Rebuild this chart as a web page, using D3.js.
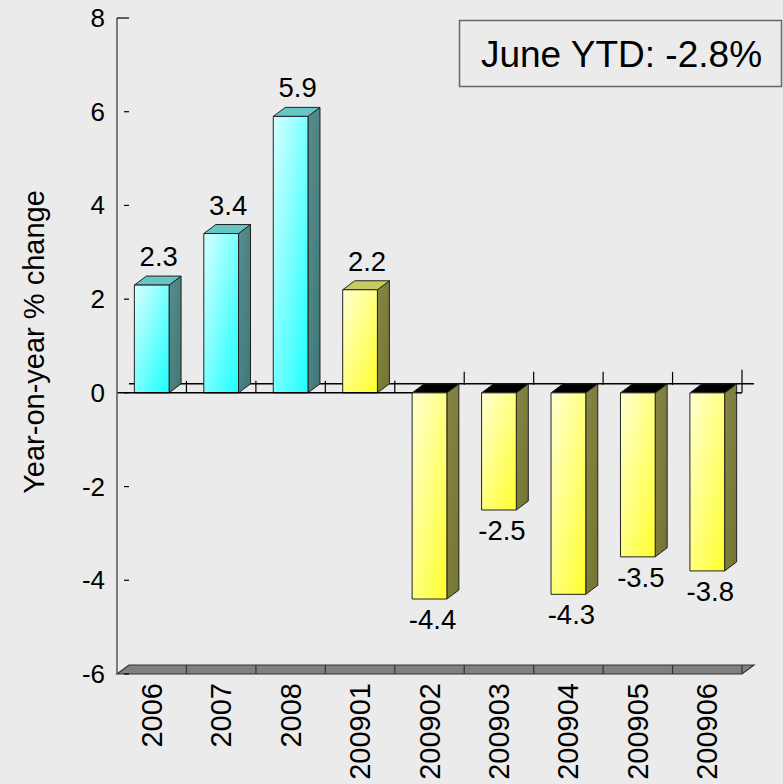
<!DOCTYPE html>
<html>
<head>
<meta charset="utf-8">
<script src="https://cdn.jsdelivr.net/npm/d3@7"></script>
<style>
  html, body { margin: 0; padding: 0; background: #ebebeb; }
  svg { display: block; font-family: 'Liberation Sans', Arial, sans-serif; }
</style>
</head>
<body>
<svg width="783" height="784"></svg>
<script>
const categories = ['2006', '2007', '2008', '200901', '200902', '200903', '200904', '200905', '200906'];
const values = [2.3, 3.4, 5.9, 2.2, -4.4, -2.5, -4.3, -3.5, -3.8];
const annual = ['2006', '2007', '2008'];
const yTicks = [-6, -4, -2, 0, 2, 4, 6, 8];
const boxText = 'June YTD: -2.8%';
const yTitle = 'Year-on-year % change';

const svg = d3.select('svg');
const dx = 12, dy = 9;

const x = d3.scaleBand()
    .domain(categories)
    .range([117, 742])
    .paddingInner(0.5)
    .paddingOuter(0.25);
const y = d3.scaleLinear()
    .domain([-6, 8])
    .range([674, 18]);

const step = x.step();
const left = x.range()[0];
const y0 = y(0);

// gradients
const defs = svg.append('defs');
function grad(id, c1, c2) {
    const g = defs.append('linearGradient').attr('id', id)
        .attr('x1', '0%').attr('y1', '0%').attr('x2', '100%').attr('y2', '100%');
    g.append('stop').attr('offset', '0%').attr('stop-color', c1);
    g.append('stop').attr('offset', '100%').attr('stop-color', c2);
}
grad('cyanFront', '#d8ffff', '#1cffff');
grad('yellowFront', '#ffffd4', '#ffff2c');
grad('cyanSide', '#5a8e8e', '#3e7676');
grad('yellowSide', '#868646', '#747432');

// back zero line
svg.append('line')
    .attr('x1', left + dx).attr('x2', x.range()[1] + dx)
    .attr('y1', y0 - dy).attr('y2', y0 - dy)
    .attr('stroke', '#000').attr('stroke-width', 1.5);

// category separators around zero
categories.forEach((c, i) => {
    const bx = left + step * (i + 1);
    const v = values[i];
    const last = i === categories.length - 1;
    svg.append('line')
        .attr('x1', bx).attr('x2', bx)
        .attr('y1', last ? y0 - 23 : (v >= 0 ? y0 - 12 : y0 - 21))
        .attr('y2', last ? y0 : (v >= 0 ? y0 : y0 - 8))
        .attr('stroke', '#000').attr('stroke-width', 1.2);
});

// bars
const bars = svg.append('g');
categories.forEach((c, i) => {
    const v = values[i];
    const isYear = annual.includes(c);
    const x0 = x(c), x1 = x(c) + x.bandwidth();
    const yv = y(v);
    const top = Math.min(yv, y0), bot = Math.max(yv, y0);
    const g = bars.append('g').attr('stroke', '#222').attr('stroke-width', 1).attr('stroke-linejoin', 'round');
    // side
    g.append('polygon')
        .attr('points', [[x1, top], [x1 + dx, top - dy], [x1 + dx, bot - dy], [x1, bot]].join(' '))
        .attr('fill', isYear ? 'url(#cyanSide)' : 'url(#yellowSide)');
    // top
    g.append('polygon')
        .attr('points', [[x0, top], [x1, top], [x1 + dx, top - dy], [x0 + dx, top - dy]].join(' '))
        .attr('fill', v < 0 ? '#000' : (isYear ? '#66c6c6' : '#caca62'));
    // front
    g.append('rect')
        .attr('x', x0).attr('y', top)
        .attr('width', x.bandwidth()).attr('height', bot - top)
        .attr('fill', isYear ? 'url(#cyanFront)' : 'url(#yellowFront)');
    // value label
    svg.append('text')
        .attr('x', x0 + x.bandwidth() / 2 + (v >= 0 ? 7 : 3))
        .attr('y', v >= 0 ? yv - dy - 10 : yv + 30)
        .attr('text-anchor', 'middle')
        .attr('font-size', 27.5)
        .attr('fill', '#000')
        .text(v.toFixed(1));
});

// front zero line (up to first negative bar) and end stub
const firstNeg = categories[values.findIndex(v => v < 0)];
svg.append('line')
    .attr('x1', left).attr('x2', x(firstNeg))
    .attr('y1', y0).attr('y2', y0)
    .attr('stroke', '#000').attr('stroke-width', 1.5);
const lastCat = categories[categories.length - 1];
svg.append('line')
    .attr('x1', x(lastCat) + x.bandwidth() + dx - 1).attr('x2', x.range()[1])
    .attr('y1', y0).attr('y2', y0)
    .attr('stroke', '#000').attr('stroke-width', 1.5);

// floor
const fy = y(-6);
svg.append('polygon')
    .attr('points', [[left, fy], [x.range()[1], fy], [x.range()[1] + dx, fy - dy], [left + dx, fy - dy]].join(' '))
    .attr('fill', '#808080').attr('stroke', '#333').attr('stroke-width', 1.2);
categories.forEach((c, i) => {
    const bx = left + step * (i + 1);
    svg.append('line')
        .attr('x1', bx).attr('x2', bx)
        .attr('y1', fy - dy).attr('y2', fy)
        .attr('stroke', '#333').attr('stroke-width', 1.2);
});

// category labels
categories.forEach(c => {
    svg.append('text')
        .attr('transform', `translate(${x(c) + x.bandwidth() / 2 + 10},${fy + 9}) rotate(-90)`)
        .attr('text-anchor', 'end')
        .attr('font-size', 29)
        .attr('fill', '#000')
        .text(c);
});

// y axis
svg.append('line')
    .attr('x1', left).attr('x2', left)
    .attr('y1', y(8)).attr('y2', fy)
    .attr('stroke', '#555').attr('stroke-width', 1.5);
yTicks.forEach(t => {
    svg.append('line')
        .attr('x1', t === 8 ? left : left + 7).attr('x2', left + dx)
        .attr('y1', y(t)).attr('y2', y(t))
        .attr('stroke', '#000').attr('stroke-width', 1.2);
    svg.append('text')
        .attr('x', 105).attr('y', y(t) + 9)
        .attr('text-anchor', 'end')
        .attr('font-size', 26)
        .attr('fill', '#000')
        .text(t);
});

svg.append('text')
    .attr('transform', `translate(44,${342}) rotate(-90)`)
    .attr('text-anchor', 'middle')
    .attr('font-size', 29)
    .attr('fill', '#000')
    .text(yTitle);

// annotation box
svg.append('rect')
    .attr('x', 459.5).attr('y', 20.5)
    .attr('width', 322).attr('height', 66)
    .attr('fill', 'none').attr('stroke', '#666').attr('stroke-width', 1.5);
svg.append('text')
    .attr('x', 621.5).attr('y', 67)
    .attr('text-anchor', 'middle')
    .attr('font-size', 37)
    .attr('fill', '#000')
    .text(boxText);
</script>
</body>
</html>
